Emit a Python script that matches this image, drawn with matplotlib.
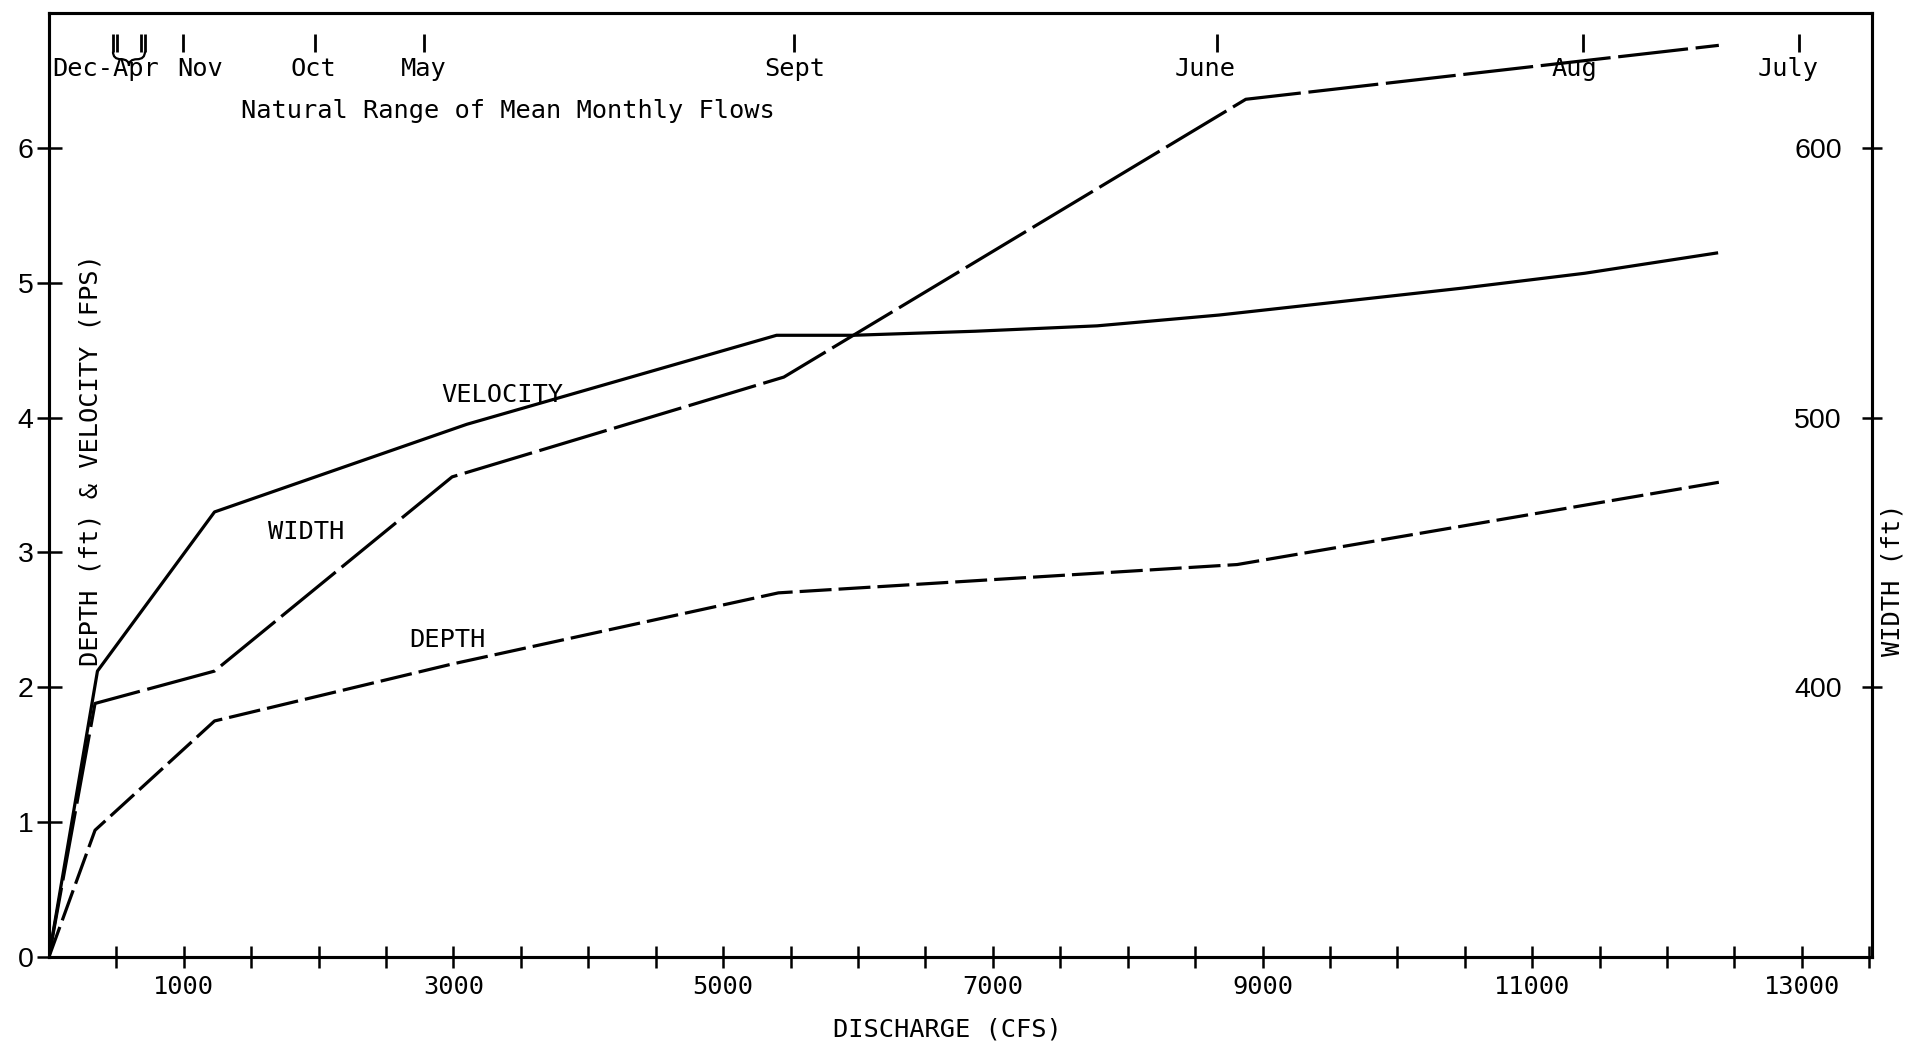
import matplotlib
matplotlib.use("Agg")
import matplotlib.pyplot as plt
from matplotlib.path import Path
from matplotlib.patches import PathPatch

# ---------------- data ----------------
# discharge (cfs) and hydraulic parameters
velocity_q = [0, 360, 1228, 3099, 5396, 5965, 6869, 7773, 8677, 9581, 10485, 11390, 12367]
velocity_fps = [0, 2.12, 3.30, 3.95, 4.61, 4.61, 4.64, 4.68, 4.76, 4.86, 4.96, 5.07, 5.22]

width_q = [0, 342, 1228, 2990, 5450, 8876, 12384]
width_ft = [300, 394, 406, 478, 515, 618, 638]

depth_q = [0, 342, 1228, 2980, 5410, 8812, 12384]
depth_ft = [0, 0.94, 1.75, 2.17, 2.70, 2.91, 3.52]

# natural range of mean monthly flows (cfs)
decapr_flows = [475, 504, 682, 712]
month_flows = [994, 1970, 2783, 5522, 8660, 11380, 12975]
month_labels = ["Dec-Apr", "Nov", "Oct", "May", "Sept", "June", "Aug", "July"]
month_label_flows = [423, 1120, 1958, 2782, 5534, 8576, 11313, 12900]

x_ticks = list(range(500, 14000, 500))
x_labeled = [1000, 3000, 5000, 7000, 9000, 11000, 13000]
left_ticks = [0, 1, 2, 3, 4, 5, 6]
right_ticks = [400, 500, 600]

curve_labels = ["VELOCITY", "WIDTH", "DEPTH"]
curve_label_q = [3360, 1907, 2952]
curve_label_y = [4.17, 3.15, 2.35]

# ---------------- figure ----------------
MONO = "DejaVu Sans Mono"
SANS = "Liberation Sans"
FS = 18.3

fig = plt.figure(figsize=(19.11, 10.46), dpi=100)
ax = fig.add_axes([0.0256, 0.0851, 0.954, 0.9025])
ax.set_xlim(0, 13520)
ax.set_ylim(0, 7.0)
ax2 = ax.twinx()
ax2.set_ylim(300, 650)

for a in (ax, ax2):
    for s in a.spines.values():
        s.set_linewidth(2.2)
        s.set_color("black")

lw = 2.3
ax.plot(velocity_q, velocity_fps, color="black", lw=lw, solid_joinstyle="round")
ax.plot(depth_q, depth_ft, color="black", lw=lw, dashes=(10, 2.2))
ax2.plot(width_q, width_ft, color="black", lw=lw, dashes=(22, 2.4))

# x axis
ax.set_xticks(x_ticks)
ax.set_xticklabels([str(t) if t in x_labeled else "" for t in x_ticks])
ax.tick_params(axis="x", direction="inout", length=16.5, width=1.8, pad=5,
               labelsize=FS)
for lab in ax.get_xticklabels():
    lab.set_fontfamily(MONO)
ax.set_xlabel("DISCHARGE (CFS)", fontsize=FS, fontfamily=MONO)
ax.xaxis.set_label_coords(0.493, -0.0773)
ax.xaxis.label.set_va("center")

# left y axis
ax.set_yticks(left_ticks)
ax.tick_params(axis="y", direction="inout", length=18, width=1.8, pad=2,
               labelsize=20.5)
for lab in ax.get_yticklabels():
    lab.set_fontfamily(SANS)
ax.set_ylabel("DEPTH (ft) & VELOCITY (FPS)", fontsize=FS, fontfamily=MONO)
ax.yaxis.set_label_coords(0.023, 0.526)
ax.yaxis.label.set_ha("center")
ax.yaxis.label.set_va("center")

# right y axis (labels drawn inside the frame)
ax2.set_yticks(right_ticks)
ax2.tick_params(axis="y", direction="inout", length=14, width=1.8, pad=-28.6,
                labelsize=20.5)
for lab in ax2.get_yticklabels():
    lab.set_fontfamily(SANS)
    lab.set_horizontalalignment("right")
ax2.set_ylabel("WIDTH (ft)", fontsize=FS, fontfamily=MONO, rotation=90)
ax2.yaxis.set_label_coords(1.0115, 0.40)
ax2.yaxis.label.set_ha("center")
ax2.yaxis.label.set_va("center")

# month flow markers along the top
tr = ax.get_xaxis_transform()
for f in decapr_flows + month_flows:
    ax.plot([f, f], [0.959, 0.978], transform=tr, color="black", lw=2.0,
            solid_capstyle="butt")
for lbl, f in zip(month_labels, month_label_flows):
    ax.text(f, 0.9407, lbl, transform=tr, ha="center", va="center",
            fontsize=FS, fontfamily=MONO)

# curly brace grouping the Dec-Apr ticks
x0, x1 = min(decapr_flows), max(decapr_flows)
xm = (x0 + x1) / 2
yt, ym, yb = 0.959, 0.951, 0.944
verts = [(x0, yt), (x0, ym), ((x0 + xm) / 2, ym), (xm, ym), (xm, yb),
         (xm, ym), ((xm + x1) / 2, ym), (x1, ym), (x1, yt)]
codes = [Path.MOVETO] + [Path.CURVE3] * 8
ax.add_patch(PathPatch(Path(verts, codes), transform=tr, fill=False,
                       lw=1.6, color="black"))

ax.text(0.252, 0.896, "Natural Range of Mean Monthly Flows", transform=ax.transAxes,
        ha="center", va="center", fontsize=FS, fontfamily=MONO)

for lbl, q, y in zip(curve_labels, curve_label_q, curve_label_y):
    ax.text(q, y, lbl, ha="center", va="center", fontsize=FS, fontfamily=MONO)

fig.savefig("out.png", dpi=100, facecolor="white")
